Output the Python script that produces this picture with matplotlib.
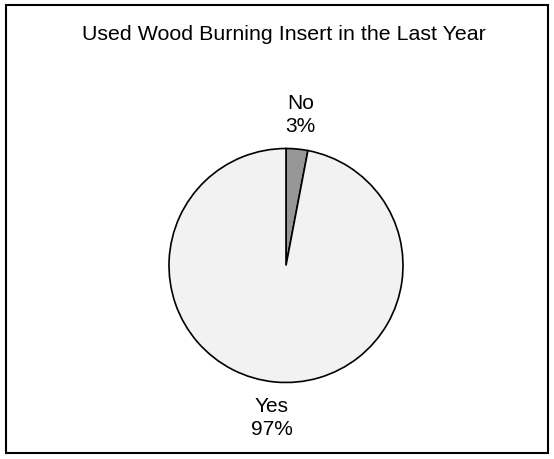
import numpy as np
import matplotlib
matplotlib.use('Agg')
import matplotlib.pyplot as plt
from matplotlib.patches import Rectangle

plt.rcParams['font.family'] = ['Liberation Sans', 'DejaVu Sans']

title = "Used Wood Burning Insert in the Last Year"
labels = ["No", "Yes"]
values = [3, 97]
colors = ["#969696", "#f2f2f2"]

W, H = 554, 460
fig = plt.figure(figsize=(W / 100, H / 100), dpi=100)

# outer frame
fig.patches.append(Rectangle((5.5 / W, 6.5 / H), (W - 12) / W, (H - 12) / H,
                             transform=fig.transFigure, fill=False,
                             edgecolor="black", linewidth=1.5))

fig.text(284 / W, 1 - 40.5 / H, title, ha="center", va="baseline", fontsize=15.4)

# pie centred at (286, 266) px, radius 117 px
cx, cy, r = 286, 266.5, 117
ax = fig.add_axes([(cx - r) / W, 1 - (cy + r) / H, 2 * r / W, 2 * r / H])
wedges, _ = ax.pie(values, colors=colors, startangle=90, counterclock=False,
                   wedgeprops=dict(edgecolor="black", linewidth=1.2))
ax.set_xlim(-1, 1)
ax.set_ylim(-1, 1)
ax.set_aspect("equal")
ax.axis("off")

for w, lab, v in zip(wedges, labels, values):
    mid = np.deg2rad((w.theta1 + w.theta2) / 2)
    ax.text(1.30 * np.cos(mid), 1.30 * np.sin(mid), f"{lab}\n{v}%",
            ha="center", va="center", fontsize=15, linespacing=1.25)

fig.savefig("out.png", dpi=100)
